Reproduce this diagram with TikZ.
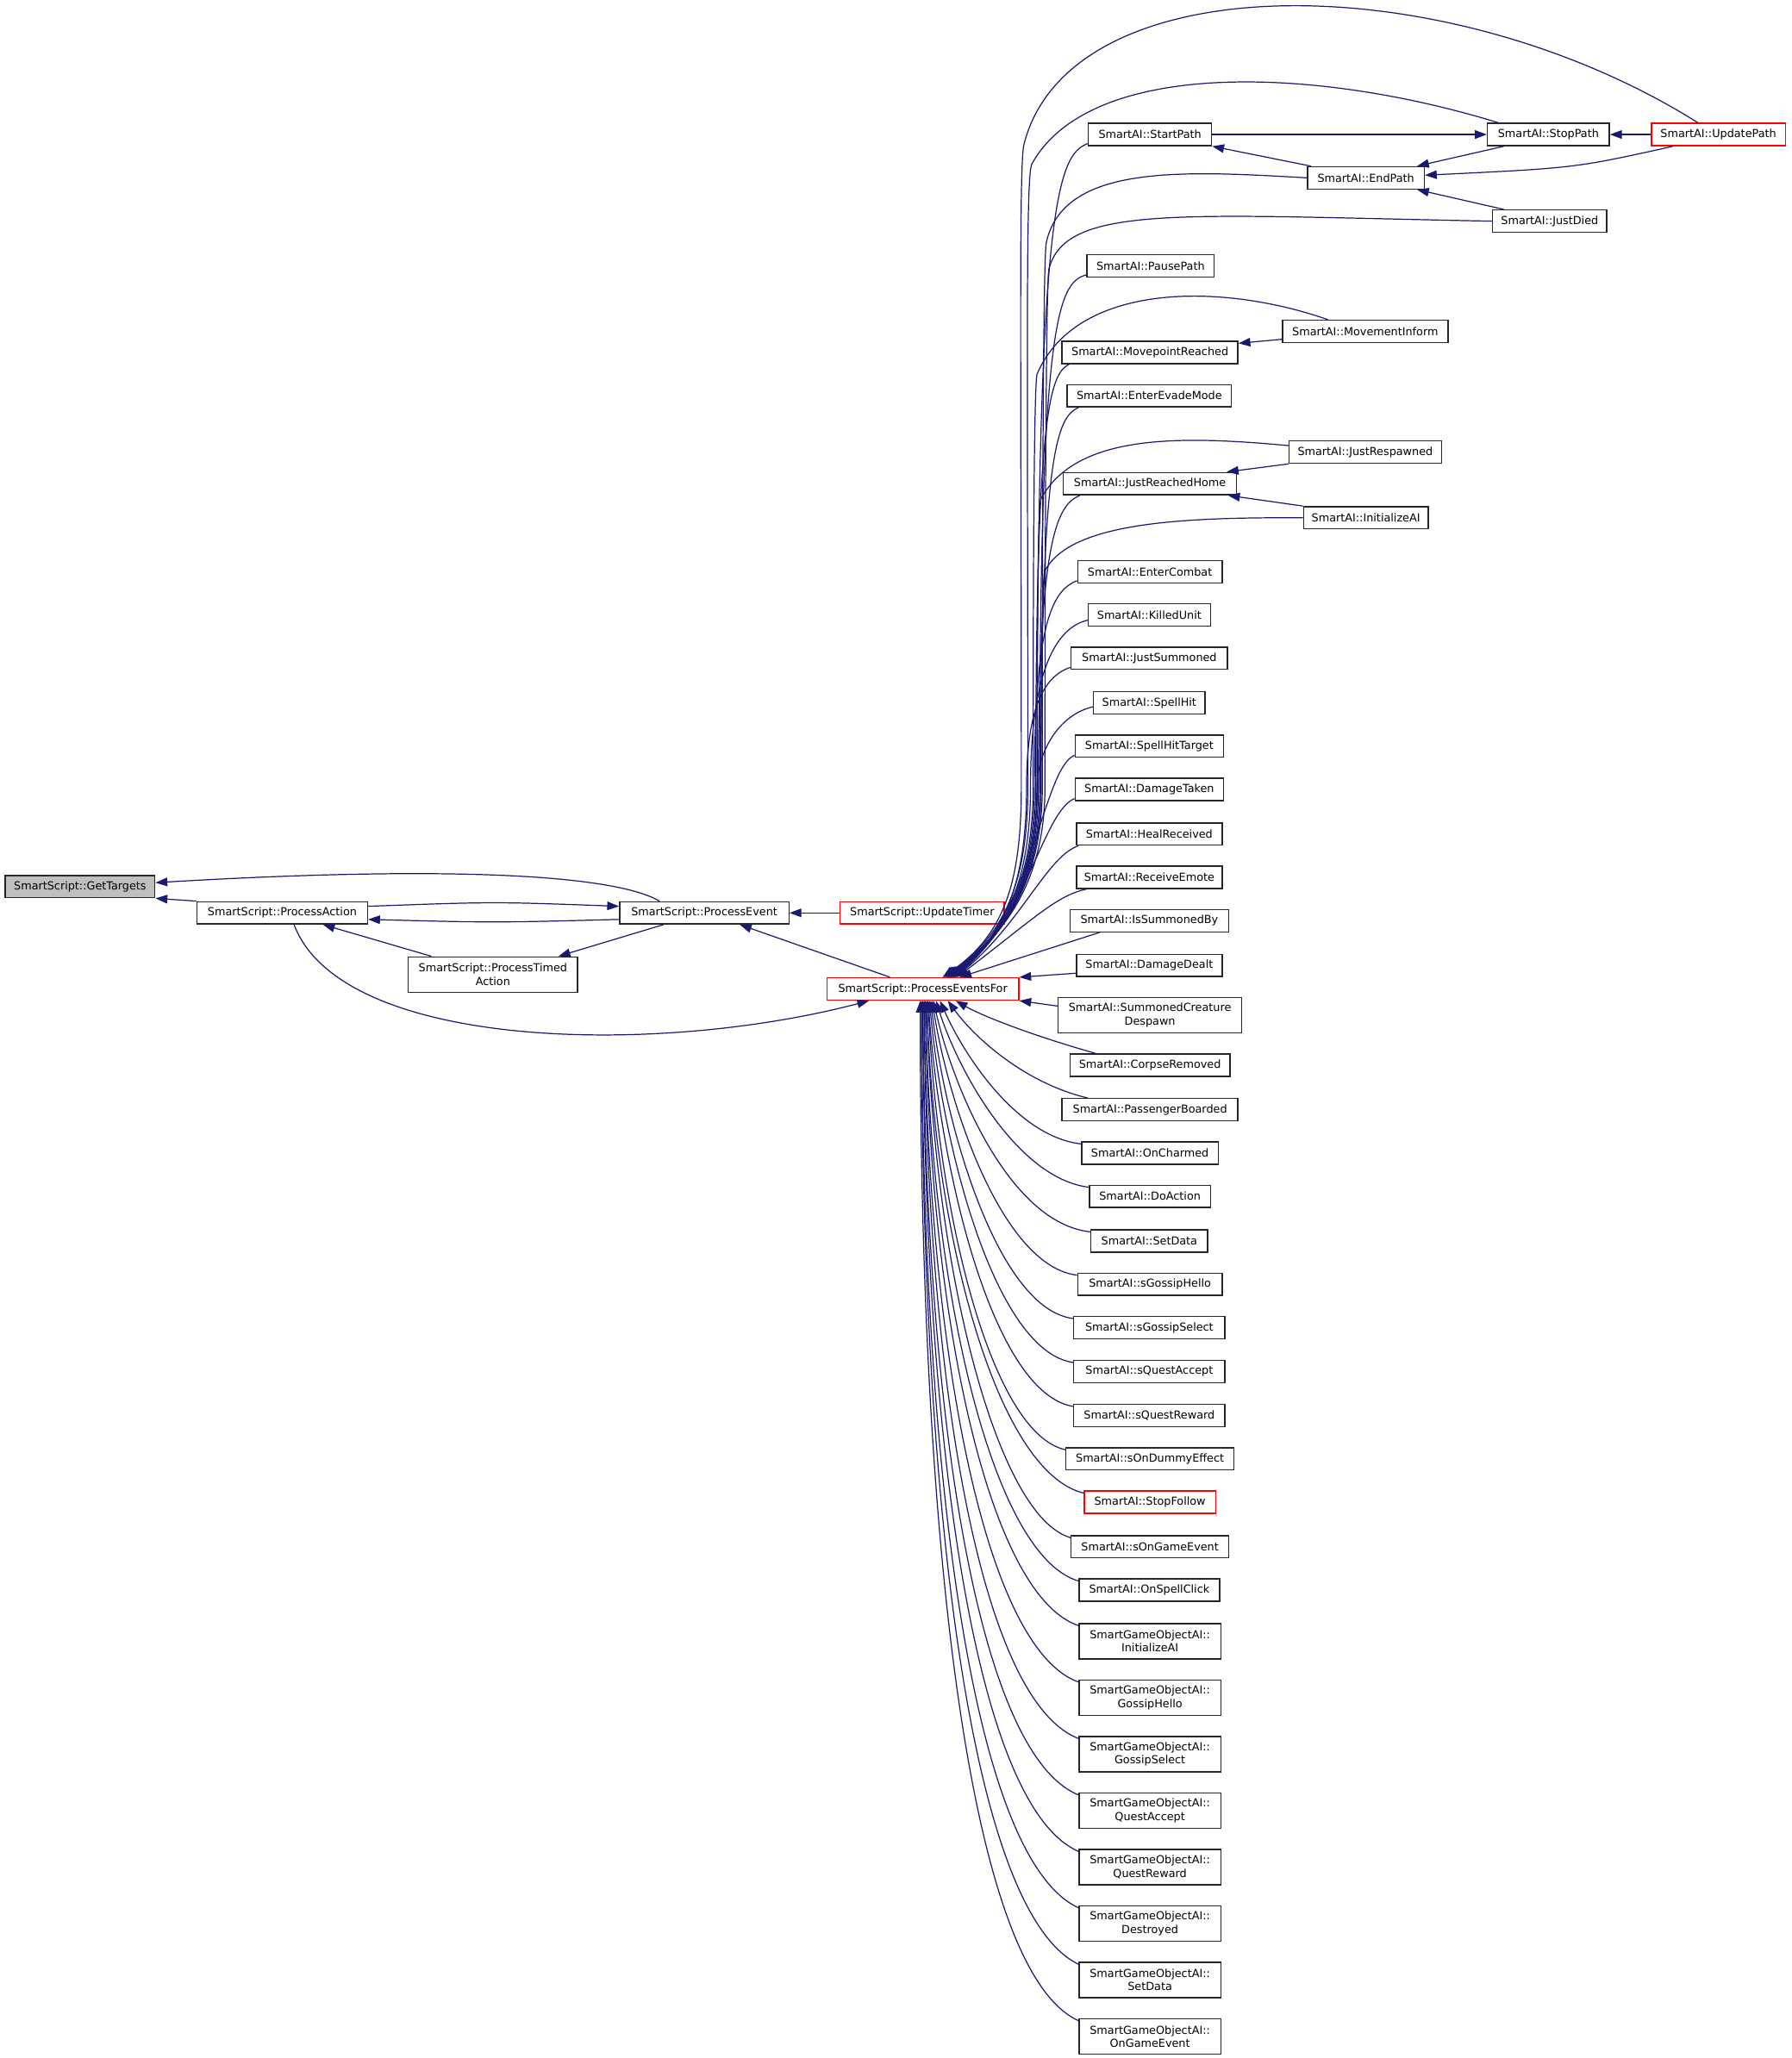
\documentclass[tikz,border=0pt]{standalone}
\usepackage{fontspec}
\setmainfont{DejaVu Sans}
\usetikzlibrary{arrows.meta,calc}
\definecolor{edgec}{RGB}{25,25,112}
\definecolor{gtfill}{RGB}{191,191,191}
\definecolor{trunc}{RGB}{255,0,0}
\newcommand\nd[5][]{\node[box,minimum width=#4pt,#1] (#2) at (#3) {#5};}
\newcommand\upe[5]{\draw[edge] (#1) .. controls (#2) and (#3,#4) .. (#3,600) .. controls (#3,672) and (765,712) .. ([xshift=#5pt]pef.north);}
\newcommand\loe[4]{\draw[edge] (#1) .. controls (#2) and (#3) .. ([xshift=#4pt]pef.south);}
\begin{document}
\begin{tikzpicture}[x=1pt,y=-1pt,
  box/.style={draw=black!85,line width=0.9pt,fill=white,inner xsep=3pt,inner ysep=1pt,minimum height=17pt,font=\fontsize{8.4}{10}\selectfont,align=center,text=black},
  trbox/.style={draw=trunc},
  tall/.style={minimum height=27pt},
  edge/.style={draw=edgec,line width=0.8pt,-{Triangle[length=9pt,width=6.5pt]}}]
\path[fill=white,use as bounding box] (0,0) rectangle (1365,1568);

% left group
\nd[fill=gtfill]{gt}{61,675.5}{114}{SmartScript::GetTargets}
\nd{pa}{215,695.5}{130}{SmartScript::ProcessAction}
\nd[tall]{pta}{375.5,742.5}{129}{SmartScript::ProcessTimed\\Action}
\nd{pe}{536.5,695.5}{129}{SmartScript::ProcessEvent}
\nd[trbox]{ut}{702.5,695.5}{125}{SmartScript::UpdateTimer}
\nd[trbox]{pef}{703,753.5}{146}{SmartScript::ProcessEventsFor}

% right column
\nd{startp}{876,102.5}{94}{SmartAI::StartPath}
\nd{stopp}{1179.5,102.5}{93}{SmartAI::StopPath}
\nd[trbox]{updp}{1309,102.5}{102}{SmartAI::UpdatePath}
\nd{endp}{1040.5,135.5}{89}{SmartAI::EndPath}
\nd{jdied}{1180.5,168.5}{87}{SmartAI::JustDied}
\nd{pausep}{876.5,202.5}{97}{SmartAI::PausePath}
\nd{movinf}{1040,252.5}{126}{SmartAI::MovementInform}
\nd{mpr}{876,268.5}{134}{SmartAI::MovepointReached}
\nd{eem}{875.5,301.5}{125}{SmartAI::EnterEvadeMode}
\nd{jresp}{1040,344.5}{116}{SmartAI::JustRespawned}
\nd{jrh}{876,368.5}{132}{SmartAI::JustReachedHome}
\nd{initai}{1040.5,394.5}{95}{SmartAI::InitializeAI}
\nd{ecomb}{876,435.5}{110}{SmartAI::EnterCombat}
\nd{kunit}{875.5,468.5}{93}{SmartAI::KilledUnit}
\nd{jsum}{875.5,501.5}{119}{SmartAI::JustSummoned}
\nd{shit}{875.5,535.5}{85}{SmartAI::SpellHit}
\nd{shitt}{875.5,568.5}{113}{SmartAI::SpellHitTarget}
\nd{dtaken}{875.5,601.5}{113}{SmartAI::DamageTaken}
\nd{hrec}{875.5,635.5}{111}{SmartAI::HealReceived}
\nd{remote}{875.5,668.5}{111}{SmartAI::ReceiveEmote}
\nd{isb}{875.5,701.5}{121}{SmartAI::IsSummonedBy}
\nd{ddealt}{875.5,735.5}{111}{SmartAI::DamageDealt}
\nd[tall]{scd}{876,773.5}{140}{SmartAI::SummonedCreature\\Despawn}
\nd{crem}{876,811.5}{122}{SmartAI::CorpseRemoved}
\nd{pboard}{876,845.5}{134}{SmartAI::PassengerBoarded}
\nd{onch}{876,878.5}{104}{SmartAI::OnCharmed}
\nd{doact}{876,911.5}{92}{SmartAI::DoAction}
\nd{setd}{875.5,945.5}{89}{SmartAI::SetData}
\nd{sgh}{876,978.5}{110}{SmartAI::sGossipHello}
\nd{sgs}{875.5,1011.5}{115}{SmartAI::sGossipSelect}
\nd{sqa}{875.5,1045}{115}{SmartAI::sQuestAccept}
\nd{sqr}{875.5,1078.5}{115}{SmartAI::sQuestReward}
\nd{sode}{876,1111.5}{128}{SmartAI::sOnDummyEffect}
\nd[trbox]{stopf}{876,1144.5}{100}{SmartAI::StopFollow}
\nd{soge}{876,1178.5}{120}{SmartAI::sOnGameEvent}
\nd{osc}{875.5,1211.5}{107}{SmartAI::OnSpellClick}
\nd[tall]{goinit}{876,1250.5}{108}{SmartGameObjectAI::\\InitializeAI}
\nd[tall]{gogh}{876,1293.5}{108}{SmartGameObjectAI::\\GossipHello}
\nd[tall]{gogs}{876,1336.5}{108}{SmartGameObjectAI::\\GossipSelect}
\nd[tall]{goqa}{876,1379.5}{108}{SmartGameObjectAI::\\QuestAccept}
\nd[tall]{goqr}{876,1422.5}{108}{SmartGameObjectAI::\\QuestReward}
\nd[tall]{godes}{876,1465.5}{108}{SmartGameObjectAI::\\Destroyed}
\nd[tall]{gosd}{876,1508.5}{108}{SmartGameObjectAI::\\SetData}
\nd[tall]{goge}{876,1551.5}{108}{SmartGameObjectAI::\\OnGameEvent}

% left group edges
\draw[edge] (pa.north west) -- (gt.south east);
\draw[edge] ([xshift=-34pt]pe.north) .. controls (465,665) and (330,660) .. ([yshift=3pt]gt.east);
\draw[edge] ([yshift=5pt]pa.east) .. controls (376,687) .. ([yshift=5pt]pe.west);
\draw[edge] ([yshift=-5pt]pe.west) .. controls (376,703) .. ([yshift=-5pt]pa.east);
\draw[edge] ([xshift=18pt]pta.north west) -- ([xshift=31pt]pa.south);
\draw[edge] ([xshift=-31pt]pe.south) -- ([xshift=-15pt]pta.north east);
\draw[edge] (ut.west) -- (pe.east);
\draw[edge] ([xshift=-25pt]pef.north) -- ([xshift=27pt]pe.south);
\draw[edge] ([xshift=9pt]pa.south) .. controls (260,800) and (500,805) .. ([xshift=-41pt]pef.south);

% upper right group edges
\draw[edge] (startp.east) -- (stopp.west);
\draw[edge] ([xshift=3pt]endp.north west) -- (startp.south east);
\draw[edge] ([xshift=13pt]stopp.south west) -- ([xshift=-6pt]endp.north east);
\draw[edge] ([xshift=17pt]updp.south west) .. controls (1200,128) .. ([yshift=2pt]endp.east);
\draw[edge] (updp.west) -- (stopp.east);
\draw[edge] ([xshift=9pt]jdied.north west) -- ([xshift=-6pt]endp.south east);
\draw[edge] ([yshift=-6pt]movinf.west) -- ([yshift=-2pt]mpr.north east);
\draw[edge] (jresp.south west) -- ([xshift=-8pt]jrh.north east);
\draw[edge] (initai.north west) -- ([xshift=-7pt]jrh.south east);
\draw[edge] ([yshift=-6pt]ddealt.west) -- (pef.north east);
\draw[edge] ([yshift=7pt]scd.west) -- (pef.south east);

% far right nodes to ProcessEventsFor
\draw[edge] ([xshift=36pt]updp.north west) .. controls (1100,-28) and (815,-28) .. (780,110) .. controls (776,126) and (778,300) .. (778,600) .. controls (778,672) and (765,712) .. ([xshift=15pt]pef.north);
\draw[edge] ([xshift=9pt]stopp.north west) .. controls (1000,50) and (830,45) .. (786,125) .. controls (781,134) and (783,300) .. (783,600) .. controls (783,672) and (765,712) .. ([xshift=16pt]pef.north);
\draw[edge] (endp.west) .. controls (900,130) and (810,125) .. (797,185) .. controls (795,195) and (794,350) .. (794,600) .. controls (794,672) and (765,712) .. ([xshift=18pt]pef.north);
\draw[edge] (jdied.west) .. controls (900,164) and (812,155) .. (799,205) .. controls (797,214) and (796,400) .. (796,600) .. controls (796,672) and (765,712) .. ([xshift=18pt]pef.north);
\draw[edge] ([xshift=35pt]movinf.north west) .. controls (930,215) and (820,215) .. (790,285) .. controls (788,292) and (787,400) .. (787,600) .. controls (787,672) and (765,712) .. ([xshift=19pt]pef.north);
\draw[edge] ([yshift=5pt]jresp.west) .. controls (900,332) and (820,330) .. (793,380) .. controls (791,386) and (790,450) .. (790,600) .. controls (790,672) and (765,712) .. ([xshift=20pt]pef.north);
\draw[edge] (initai.west) .. controls (900,394) and (815,398) .. (796,435) .. controls (794,440) and (793,500) .. (793,600) .. controls (793,672) and (765,712) .. ([xshift=21pt]pef.north);

% upper left column to ProcessEventsFor
\upe{[yshift=2pt]startp.south west}{805,118}{790}{160}{17}
\upe{[yshift=2pt]pausep.south west}{805,215}{792}{250}{19}
\upe{[xshift=6pt]mpr.south west}{800,285}{789}{310}{20}
\upe{[xshift=9pt]eem.south west}{805,318}{793}{345}{20}
\upe{[xshift=13pt]jrh.south west}{805,385}{791}{410}{21}
\upe{[yshift=2pt]ecomb.south west}{800,450}{788}{480}{22}
\upe{[yshift=-4pt]kunit.west}{805,478}{785}{510}{22}
\upe{[yshift=2pt]jsum.south west}{795,515}{782}{540}{23}
\upe{[yshift=-3pt]shit.west}{805,545}{790}{575}{23}
\draw[edge] ([yshift=2pt]shitt.south west) .. controls (795,585) and (788,690) .. ([xshift=24pt]pef.north);
\draw[edge] ([yshift=2pt]dtaken.south west) .. controls (795,618) and (783,697) .. ([xshift=24pt]pef.north);
\draw[edge] ([xshift=2pt]hrec.south west) .. controls (798,652) and (778,703) .. ([xshift=25pt]pef.north);
\draw[edge] ([xshift=8pt]remote.south west) .. controls (805,682) and (785,702) .. ([xshift=26pt]pef.north);
\draw[edge] ([xshift=23pt]isb.south west) -- ([xshift=28pt]pef.north);

% lower column to ProcessEventsFor
\loe{[xshift=20pt]crem.north west}{790,790}{750,775}{25}
\loe{[xshift=20pt]pboard.north west}{780,825}{742,790}{19}
\loe{[yshift=-2pt]onch.north west}{775,866}{735,805}{13}
\loe{[yshift=-2pt]doact.north west}{775,898}{730,816}{10}
\loe{[yshift=-2pt]setd.north west}{770,932}{727,832}{8}
\loe{[yshift=-2pt]sgh.north west}{765,965}{724,848}{7}
\loe{[yshift=-2pt]sgs.north west}{762,998}{721,865}{6}
\loe{[yshift=-2pt]sqa.north west}{760,1030}{719,882}{5}
\loe{[yshift=-2pt]sqr.north west}{758,1062}{717,900}{4}
\loe{[yshift=-2pt]sode.north west}{755,1092}{714,925}{4}
\loe{[yshift=-2pt]stopf.north west}{760,1122}{712,945}{3}
\loe{[yshift=-2pt]soge.north west}{758,1155}{711,962}{3}
\loe{[yshift=-2pt]osc.north west}{755,1185}{709,980}{2}
\loe{[yshift=-2pt]goinit.north west}{752,1215}{708,1000}{2}
\loe{[yshift=-2pt]gogh.north west}{748,1255}{707,1020}{1}
\loe{[yshift=-2pt]gogs.north west}{745,1295}{706,1045}{1}
\loe{[yshift=-2pt]goqa.north west}{742,1335}{705,1065}{0}
\loe{[yshift=-2pt]goqr.north west}{740,1375}{704,1085}{0}
\loe{[yshift=-2pt]godes.north west}{738,1415}{703,1110}{-1}
\loe{[yshift=-2pt]gosd.north west}{736,1455}{702,1130}{-1}
\loe{[yshift=-2pt]goge.north west}{734,1500}{701,1150}{-2}
\end{tikzpicture}
\end{document}
